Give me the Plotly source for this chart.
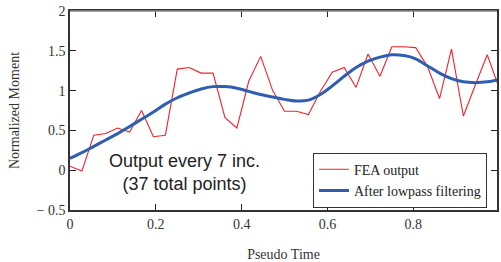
import plotly.graph_objects as go

n_points = 37
pseudo_time = [i / 36 for i in range(n_points)]

fea_output = [0.05, -0.01, 0.44, 0.46, 0.53, 0.48, 0.75, 0.42, 0.44, 1.27,
              1.29, 1.22, 1.22, 0.66, 0.53, 1.12, 1.43, 1.00, 0.74, 0.74,
              0.70, 0.99, 1.23, 1.29, 1.04, 1.46, 1.18, 1.55, 1.55, 1.54,
              1.30, 0.90, 1.52, 0.68, 1.07, 1.45, 1.03]

lowpass = [0.15, 0.22, 0.30, 0.38, 0.46, 0.55, 0.64, 0.73, 0.83, 0.91,
           0.97, 1.02, 1.05, 1.05, 1.03, 0.99, 0.95, 0.92, 0.89, 0.87,
           0.88, 0.95, 1.06, 1.18, 1.29, 1.37, 1.42, 1.45, 1.44, 1.40,
           1.31, 1.22, 1.15, 1.11, 1.10, 1.11, 1.14]

x_ticks = [0, 0.2, 0.4, 0.6, 0.8]
x_tick_labels = ["0", "0.2", "0.4", "0.6", "0.8"]
y_ticks = [-0.5, 0, 0.5, 1, 1.5, 2]
y_tick_labels = ["\u2212 0.5", "0", "0.5", "1", "1.5", "2"]

serif = "Liberation Serif, Times New Roman, serif"

fig = go.Figure()
fig.add_trace(go.Scatter(x=pseudo_time, y=fea_output, mode="lines",
                         name="FEA output",
                         line=dict(color="#f5222d", width=1.1)))
fig.add_trace(go.Scatter(x=pseudo_time, y=lowpass, mode="lines",
                         name="After lowpass filtering",
                         line=dict(color="#2f5db0", width=3, shape="spline")))

fig.add_annotation(x=0.266, y=-0.03, xref="x", yref="y",
                   text="Output every 7 inc.<br>(37 total points)",
                   showarrow=False,
                   font=dict(family="Liberation Sans, Arial, sans-serif",
                             size=18, color="#222"))

fig.update_layout(
    width=501, height=262,
    margin=dict(l=70, r=4, t=11, b=52),
    paper_bgcolor="white", plot_bgcolor="white",
    showlegend=True,
    legend=dict(x=0.569, y=0.288, xanchor="left", yanchor="top",
                bordercolor="#333", borderwidth=1, bgcolor="white",
                font=dict(family=serif, size=14, color="#222"),
                tracegroupgap=0, itemwidth=30),
    font=dict(family=serif, size=14, color="#222"),
)

fig.update_xaxes(range=[0, 0.995], tickvals=x_ticks, ticktext=x_tick_labels,
                 ticks="inside", ticklen=6, tickcolor="#222", tickwidth=1,
                 showline=True, linecolor="#333", linewidth=1.5,
                 mirror="ticks", showgrid=False, zeroline=False,
                 automargin=False,
                 tickfont=dict(family=serif, size=14, color="#333"),
                 title=dict(text="Pseudo Time", standoff=22,
                            font=dict(family=serif, size=14, color="#333")))
fig.update_yaxes(range=[-0.5, 2], tickvals=y_ticks, ticktext=y_tick_labels,
                 ticks="inside", ticklen=6, tickcolor="#222", tickwidth=1,
                 showline=True, linecolor="#333", linewidth=1.5,
                 mirror="ticks", showgrid=False, zeroline=False,
                 automargin=False,
                 tickfont=dict(family=serif, size=14, color="#333"),
                 title=dict(text="Normalized Moment", standoff=14,
                            font=dict(family=serif, size=14, color="#333")))

fig.add_shape(type="line", xref="paper", yref="paper", x0=0, x1=1, y0=1, y1=1,
              line=dict(color="#888", width=1.5), layer="above")

fig.write_html("out.html",
               config={"displayModeBar": False},
               post_script="document.body.style.margin='0';"
                           "document.body.style.overflow='hidden';")
